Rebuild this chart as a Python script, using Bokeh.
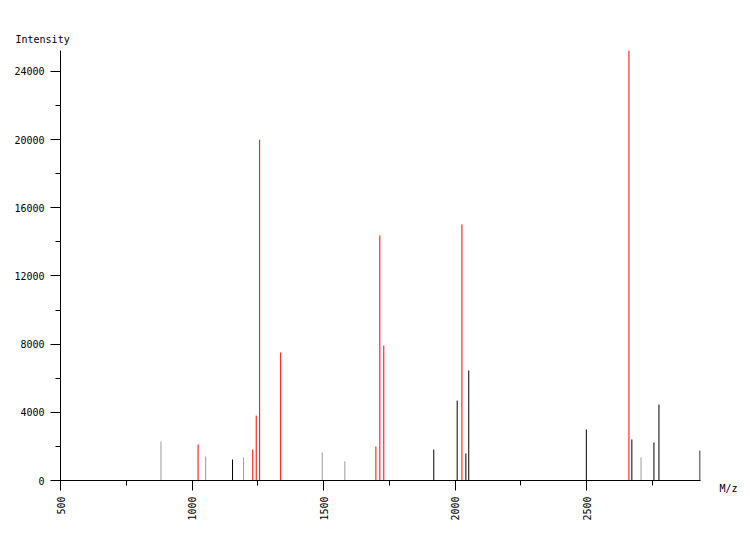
from bokeh.plotting import figure
from bokeh.models import Range1d, SingleIntervalTicker, Label, Title
from bokeh.embed import file_html
from bokeh.resources import INLINE

# Peak data (m/z, intensity) by class
red_mz = [1023, 1231, 1244, 1257, 1337, 1699, 1714, 1729, 2026, 2661]
red_int = [2110, 1820, 3810, 20000, 7510, 1995, 14380, 7920, 15020, 25230]

black_mz = [1154, 1919, 2008, 2041, 2052, 2499, 2672, 2756, 2775, 2931]
black_int = [1232, 1820, 4690, 1584, 6455, 2993, 2406, 2230, 4460, 1760]

gray_mz = [882, 1052, 1196, 1495, 1581, 2707]
gray_int = [2290, 1408, 1350, 1643, 1115, 1350]

x_start, x_end = 500, 2933
y_start, y_end = 0, 25230

FONT = "DejaVu Sans Mono"

p = figure(width=750, height=540, title=None,
           x_range=Range1d(x_start, x_end), y_range=Range1d(y_start, y_end),
           output_backend="svg", toolbar_location=None,
           min_border_left=60, min_border_right=50,
           min_border_top=50, min_border_bottom=60)

p.outline_line_color = None
p.xgrid.visible = False
p.ygrid.visible = False
p.background_fill_color = "white"
p.border_fill_color = "white"

for xs, ys, col in ((gray_mz, gray_int, "#999999"),
                    (black_mz, black_int, "#000000"),
                    (red_mz, red_int, "#ff0000")):
    p.segment(x0=xs, y0=[0] * len(xs), x1=xs, y1=ys, line_color=col, line_width=1)

xa = p.xaxis[0]
xa.ticker = SingleIntervalTicker(interval=500, num_minor_ticks=2)
xa.major_label_orientation = 1.5707963
ya = p.yaxis[0]
ya.ticker = SingleIntervalTicker(interval=4000, num_minor_ticks=2)

for ax in (xa, ya):
    ax.axis_line_color = "black"
    ax.axis_line_width = 1
    ax.major_tick_in = 0
    ax.major_tick_out = 10
    ax.minor_tick_in = 0
    ax.minor_tick_out = 5
    ax.major_tick_line_color = "black"
    ax.minor_tick_line_color = "black"
    ax.major_label_text_font = FONT
    ax.major_label_text_font_size = "10px"
    ax.major_label_text_color = "black"
    ax.major_label_standoff = 6

p.add_layout(Title(text="Intensity", align="left", offset=-45,
                   text_font=FONT, text_font_size="10px",
                   text_font_style="normal", text_color="black",
                   standoff=12), "above")
p.add_layout(Label(x=3005, y=-469, text="M/z", text_font=FONT,
                   text_font_size="10px", text_color="black",
                   text_baseline="middle", text_align="left"), "right")

open("out.html", "w").write(file_html(p, INLINE))
